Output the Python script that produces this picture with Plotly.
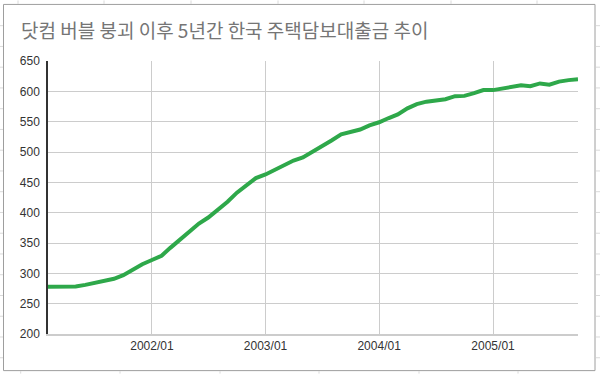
import plotly.graph_objects as go
import pandas as pd

# Data: monthly housing mortgage loan balance
months = pd.date_range("2001-02-01", "2005-10-01", freq="MS").strftime("%Y-%m-%d").tolist()
values_2001 = [278, 278, 277.5, 278.5, 281, 284, 288, 291, 297, 306, 315]
values_2002 = [322, 329, 342, 356, 369, 382, 392, 404, 418, 433, 445, 457]
values_2003 = [463, 471, 479, 486, 491, 500, 509, 519, 529, 533, 537, 544]
values_2004 = [549, 556, 562, 572, 579, 583, 585.5, 587, 592, 592.5, 597, 602]
values_2005 = [602, 605, 608, 610, 608.5, 613, 611, 616, 618.5, 620]
values = values_2001 + values_2002 + values_2003 + values_2004 + values_2005

tick_vals = ["2002-01-01", "2003-01-01", "2004-01-01", "2005-01-01"]
tick_text = ["2002/01", "2003/01", "2004/01", "2005/01"]
title = "닷컴 버블 붕괴 이후 5년간 한국 주택담보대출금 추이"

W, H = 600, 374
L, R, T, B = 48, 22, 60.7, 39.7
pw, ph = W - L - R, H - T - B

def px(x):
    return (x - L) / pw

def py(y):
    return (H - B - y) / ph

fig = go.Figure()
fig.add_trace(go.Scatter(x=months, y=values, mode="lines",
                         line=dict(color="#2ea84a", width=4), hoverinfo="skip"))

# chart frame and faint spreadsheet grid around it (decoration)
shapes = [dict(type="rect", xref="paper", yref="paper",
               x0=px(3.5), x1=px(595), y0=py(371), y1=py(4),
               line=dict(color="#9e9e9e", width=1), layer="below")]
grid_col = "#dadada"
for k in range(1, 18):
    yy = 4.5 + 20.8 * k
    if yy > 370:
        break
    shapes.append(dict(type="line", xref="paper", yref="paper",
                       x0=px(0), x1=px(3), y0=py(yy), y1=py(yy),
                       line=dict(color=grid_col, width=1)))
    shapes.append(dict(type="line", xref="paper", yref="paper",
                       x0=px(596), x1=px(600), y0=py(yy), y1=py(yy),
                       line=dict(color=grid_col, width=1)))
for xx in [18, 104, 191, 278, 364, 451, 537]:
    shapes.append(dict(type="line", xref="paper", yref="paper",
                       x0=px(xx), x1=px(xx), y0=py(0), y1=py(3.5),
                       line=dict(color=grid_col, width=1)))
for xx in [20.7, 120, 220, 319, 419, 518]:
    shapes.append(dict(type="line", xref="paper", yref="paper",
                       x0=px(xx), x1=px(xx), y0=py(371.5), y1=py(374),
                       line=dict(color=grid_col, width=1)))

fig.update_layout(
    width=W, height=H,
    margin=dict(l=L, r=R, t=T, b=B),
    paper_bgcolor="white", plot_bgcolor="white",
    showlegend=False,
    title=dict(text=title, xref="container", x=21 / W, xanchor="left",
               yref="container", y=1 - 31 / H, yanchor="middle",
               font=dict(family="Noto Sans CJK KR", size=19, color="#757575")),
    xaxis=dict(range=[months[0], months[-1]], tickvals=tick_vals, ticktext=tick_text,
               showgrid=True, gridcolor="#cccccc", gridwidth=1, zeroline=False,
               showline=True, linecolor="#cccccc", linewidth=1.5, ticks="",
               tickfont=dict(family="Liberation Sans", size=12, color="#333333")),
    yaxis=dict(range=[200, 650], dtick=50, showgrid=True, gridcolor="#cccccc",
               gridwidth=1, zeroline=False, showline=True, linecolor="#333333",
               linewidth=1.5, ticks="", ticklabelstandoff=4,
               tickfont=dict(family="Liberation Sans", size=12, color="#333333")),
    shapes=shapes,
)
fig.write_html("out.html")
